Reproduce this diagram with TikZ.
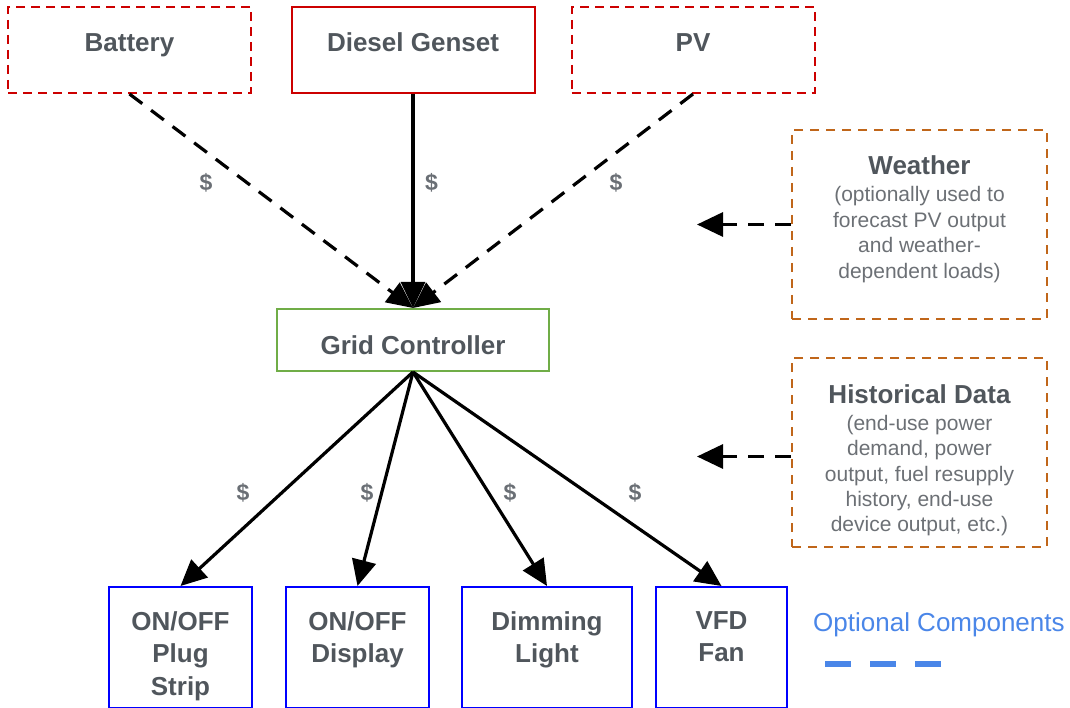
\documentclass[tikz,border=0pt]{standalone}
\usepackage{fontspec}
\setmainfont{Liberation Sans}
\usepackage{xcolor}
\usetikzlibrary{arrows.meta, positioning}
\definecolor{kred}{HTML}{CC0000}
\definecolor{kgreen}{HTML}{70AD47}
\definecolor{kblue}{HTML}{0000FF}
\definecolor{korange}{HTML}{C0661A}
\definecolor{klegend}{HTML}{4A86E8}
\definecolor{ktext}{HTML}{50565C}
\definecolor{ksub}{HTML}{6C7075}

\begin{document}
\begin{tikzpicture}[x=1pt, y=-1pt,
  box/.style={draw, line width=2pt, inner sep=0pt},
  source/.style={box, draw=kred, minimum width=243pt, minimum height=86pt},
  optsource/.style={source, dash pattern=on 9pt off 6pt},
  ctrl/.style={box, draw=kgreen, minimum width=272pt, minimum height=62pt},
  info/.style={box, draw=korange, dash pattern=on 9pt off 7pt, minimum width=255pt, minimum height=189pt},
  load/.style={box, draw=kblue, minimum height=121pt},
  title/.style={font=\fontsize{26}{32.5}\selectfont\bfseries, text=ktext, inner sep=0pt},
  note/.style={font=\fontsize{21}{25}\selectfont, text=ksub, inner sep=0pt},
  cost/.style={font=\fontsize{23}{26}\selectfont\bfseries, text=ktext!85, inner sep=0pt},
  flow/.style={line width=3.2pt, -{Triangle[length=26pt, width=24pt]}},
  optflow/.style={flow, dash pattern=on 16pt off 11pt}]

  \useasboundingbox (0,0) rectangle (1070,708);

  %% Energy sources
  \node[optsource] (batt) at (129.5,50) {};
  \node[source] (diesel) at (413,50) {};
  \node[optsource] (pv) at (693,50) {};
  \node[title, anchor=base] (batttxt) at (129.5,52) {Battery};
  \node[title, anchor=base] (dieseltxt) at (413,52) {Diesel Genset};
  \node[title, anchor=base] (pvtxt) at (693,52) {PV};

  %% Controller
  \node[ctrl] (grid) at (413,340) {};
  \node[title, anchor=base] (gridtxt) at (413,354) {Grid Controller};

  %% Optional inputs
  \node[info] (weather) at (919.5,224.5) {};
  \node[title, anchor=base] (weathertitle) at (919.5,175) {Weather};
  \foreach \txt [count=\i from 0] in {{(optionally used to}, {forecast PV output}, {and weather-}, {dependent loads)}}{
    \node[note, anchor=base] (wline\i) at (919.5,{202+\i*25.5}) {\txt};
  }
  \node[info] (hist) at (919.5,452.5) {};
  \node[title, anchor=base] (histtitle) at (919.5,403) {Historical Data};
  \foreach \txt [count=\i from 0] in {{(end-use power}, {demand, power}, {output, fuel resupply}, {history, end-use}, {device output, etc.)}}{
    \node[note, anchor=base] (hline\i) at (919.5,{430.5+\i*25.3}) {\txt};
  }
  \coordinate (wtip) at (697,224.5);
  \coordinate (htip) at (697,456.5);

  %% Loads
  \node[load, minimum width=143pt] (plug) at (180.5,647.5) {};
  \node[load, minimum width=143pt] (display) at (357.5,647.5) {};
  \node[load, minimum width=170pt] (dimming) at (547,647.5) {};
  \node[load, minimum width=131pt] (vfd) at (721.5,647.5) {};
  \node[title, align=center, below=25pt of plug.north] (plugtxt) {ON/OFF\\Plug\\Strip};
  \node[title, align=center, below=25pt of display.north] (displaytxt) {ON/OFF\\Display};
  \node[title, align=center, below=25pt of dimming.north] (dimmingtxt) {Dimming\\Light};
  \node[title, align=center, below=25pt of vfd.north] (vfdtxt) {VFD\\Fan};

  %% Connectors
  \draw[optflow] (batt.south) -- (grid.north);
  \draw[optflow] (pv.south) -- (grid.north);
  \draw[flow] (diesel.south) -- (grid.north);
  \draw[optflow] ([yshift=-4pt]hist.west) -- (htip);
  \draw[optflow] (weather.west) -- (wtip);
  \foreach \load in {plug, display, dimming, vfd}{
    \draw[flow] (grid.south) -- (\load.north);
  }

  %% Cost labels
  \foreach \x/\y [count=\i] in {206/183, 431.5/183, 616/183, 243/493, 367/493, 510/493, 635/493}{
    \node[cost] (cost\i) at (\x,\y) {\$};
  }

  %% Legend
  \node[font=\fontsize{26}{30}\selectfont, text=klegend, inner sep=0pt, anchor=base west] (legend) at (813,631.5) {Optional Components};
  \draw[klegend, line width=6pt, dash pattern=on 26pt off 19pt] (825,664) -- (941,664);

\end{tikzpicture}
\end{document}
